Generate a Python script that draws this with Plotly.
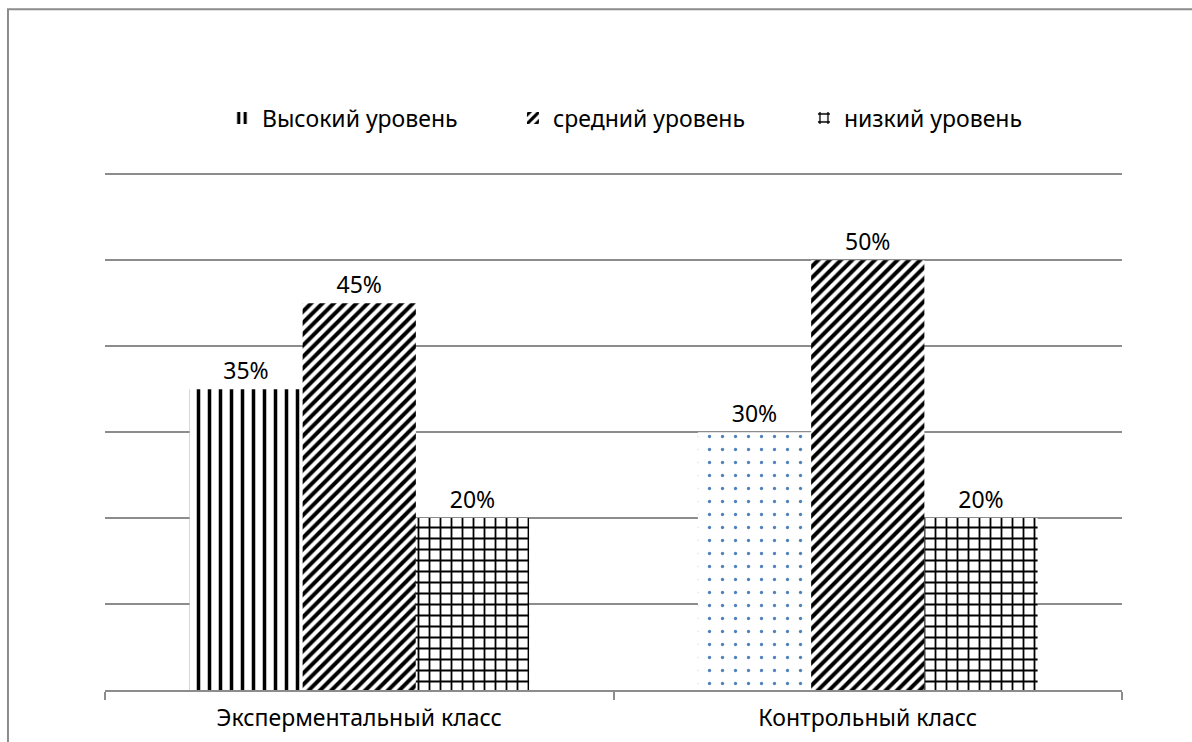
import plotly.graph_objects as go

categories = ["Эксперментальный класс", "Контрольный класс"]
series_names = ["Высокий уровень", "средний уровень", "низкий уровень"]
high = [35, 30]
mid = [45, 50]
low = [20, 20]
labels_high = ["35%", "30%"]
labels_mid = ["45%", "50%"]
labels_low = ["20%", "20%"]

FONT = "Noto Sans"
FS = 23
fig = go.Figure()

fig.add_trace(go.Bar(
    x=categories, y=high, name=series_names[0], text=labels_high,
    textposition="outside", cliponaxis=False,
    marker=dict(color="white", line=dict(width=0),
                pattern=dict(shape=["|", "."], fgcolor=["black", "#4f81bd"],
                             bgcolor="white", size=[11, 13], solidity=[0.32, 0.05],
                             fillmode="replace")),
))
fig.add_trace(go.Bar(
    x=categories, y=mid, name=series_names[1], text=labels_mid,
    textposition="outside", cliponaxis=False,
    marker=dict(color="white", line=dict(width=0),
                pattern=dict(shape="/", fgcolor="black", bgcolor="white",
                             size=8, solidity=0.5, fillmode="replace")),
))
fig.add_trace(go.Bar(
    x=categories, y=low, name=series_names[2], text=labels_low,
    textposition="outside", cliponaxis=False,
    marker=dict(color="white", line=dict(width=0),
                pattern=dict(shape="+", fgcolor="black", bgcolor="white",
                             size=11, solidity=0.3, fillmode="replace")),
))

fig.update_traces(textfont=dict(family=FONT, size=FS, color="black"))

fig.add_shape(type="rect", xref="paper", yref="paper",
              x0=-0.0954, x1=1.2, y0=-0.2, y1=1.309,
              line=dict(color="#8c8c8c", width=2), fillcolor="rgba(0,0,0,0)",
              layer="below")

fig.update_layout(
    width=1192, height=742,
    margin=dict(l=105, r=70, t=170, b=52, autoexpand=False),
    paper_bgcolor="white", plot_bgcolor="white",
    barmode="group", bargap=0.332, bargroupgap=0,
    font=dict(family=FONT, size=FS, color="black"),
    showlegend=True,
    legend=dict(orientation="h", x=0.115, xanchor="left", y=1.1, yanchor="middle",
                entrywidth=246, font=dict(family=FONT, size=FS, color="black"),
                bgcolor="rgba(0,0,0,0)"),
    xaxis=dict(showline=True, linecolor="#8c8c8c", linewidth=2, automargin=False,
               ticks="outside", tickson="boundaries", ticklen=8, tickcolor="#8c8c8c",
               tickwidth=2, tickfont=dict(family=FONT, size=FS, color="black"),
               ticklabelstandoff=6, showgrid=False),
    yaxis=dict(range=[0, 60.5], tick0=0, dtick=10, showgrid=True, gridcolor="#8c8c8c",
               gridwidth=1.5, showticklabels=False, zeroline=False, showline=False,
               ticks="", automargin=False),
)

fig.write_html("out.html", config={"displayModeBar": False},
               post_script="document.body.style.margin='0px';")
